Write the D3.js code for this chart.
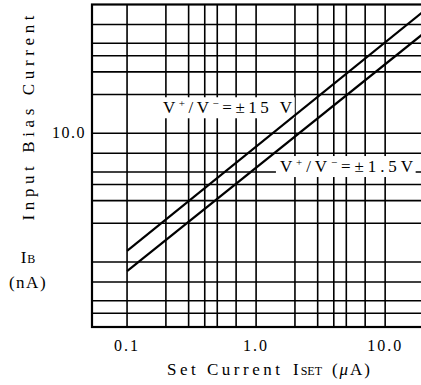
<!DOCTYPE html>
<meta charset="utf-8">
<style>
body { margin:0; background:#fff; overflow:hidden; }
svg text { font-family:"Liberation Serif", "Times New Roman", Times, serif; fill:#000; }
</style>
<svg width="421" height="385"></svg>
<script src="https://d3js.org/d3.v7.min.js"></script>
<script>
// set current (uA) on x, input bias current (nA) on y, both log
var xTicks = [0.1, 1, 10];
var xTickLabels = ['0.1', '1.0', '10.0'];
var yTicks = [10];
var yTickLabels = ['10.0'];
var xGrid = [0.1, 0.2, 0.3, 0.4, 0.5, 0.7, 1, 2, 3, 4, 5, 7, 10, 20];
var yGrid = [0.4, 0.5, 0.7, 1, 2, 3, 4, 5, 7, 10, 20, 30, 40, 50, 70];

var setCurrent = [0.1, 20];
var bias15 = [1.22, 89];    // V+/V- = ±15 V
var bias1_5 = [0.85, 60];   // V+/V- = ±1.5 V

var svg = d3.select('svg');
var x = d3.scaleLog().domain([0.0535, 20]).range([92, 424]);
var y = d3.scaleLog().domain([0.313, 100]).range([327, 4.5]);

var grid = svg.append('g').attr('stroke', '#000').attr('stroke-width', 1.6);
grid.selectAll('.v').data(xGrid).enter().append('line')
    .attr('x1', function(d) { return x(d) }).attr('x2', function(d) { return x(d) })
    .attr('y1', y.range()[1]).attr('y2', y.range()[0]);
grid.selectAll('.h').data(yGrid).enter().append('line')
    .attr('x1', x.range()[0]).attr('x2', x.range()[1])
    .attr('y1', function(d) { return y(d) }).attr('y2', function(d) { return y(d) });

// frame
svg.append('rect')
    .attr('x', x.range()[0]).attr('y', y.range()[1])
    .attr('width', x.range()[1] - x.range()[0]).attr('height', y.range()[0] - y.range()[1])
    .attr('fill', 'none').attr('stroke', '#000').attr('stroke-width', 2.2);

// curve labels sit on white patches that break the grid
function curveLabel(xv, yv, vals, len) {
    var g = svg.append('g');
    var bg = g.append('rect').attr('fill', '#fff');
    var t = g.append('text').attr('x', x(xv)).attr('y', y(yv)).attr('font-size', 17);
    t.append('tspan').text('V');
    t.append('tspan').attr('font-size', 11).attr('dy', -6).text('+');
    t.append('tspan').attr('dy', 6).text('/V');
    t.append('tspan').attr('font-size', 11).attr('dy', -6).text('\u2212');
    t.append('tspan').attr('dy', 6).text('=\u00b1' + vals);
    t.attr('textLength', len).attr('lengthAdjust', 'spacing');
    var b = t.node().getBBox();
    bg.attr('x', b.x - 4).attr('y', b.y).attr('width', b.width + 6).attr('height', b.height + 1);
}
curveLabel(0.19, 14.3, '15 V', 129);
curveLabel(1.53, 5, '1.5V', 133);

var line = d3.line()
    .x(function(d) { return x(d[0]) })
    .y(function(d) { return y(d[1]) });
[bias15, bias1_5].forEach(function(s) {
    svg.append('path')
        .datum(setCurrent.map(function(c, i) { return [c, s[i]] }))
        .attr('d', line)
        .attr('fill', 'none').attr('stroke', '#000').attr('stroke-width', 2.2);
});

// tick labels
svg.selectAll('.xt').data(xTicks).enter().append('text')
    .attr('x', function(d) { return x(d) }).attr('y', 351)
    .attr('text-anchor', 'middle').attr('font-size', 16).attr('letter-spacing', 2)
    .text(function(d, i) { return xTickLabels[i] });
svg.selectAll('.yt').data(yTicks).enter().append('text')
    .attr('x', 86).attr('y', function(d) { return y(d) + 5 })
    .attr('text-anchor', 'end').attr('font-size', 16).attr('letter-spacing', 1.5)
    .text(function(d, i) { return yTickLabels[i] });

// x title
svg.append('text').attr('x', 167).attr('y', 375).attr('font-size', 17)
    .attr('textLength', 113).attr('lengthAdjust', 'spacing').text('Set Current');
var iset = svg.append('text').attr('x', 293).attr('y', 375).attr('font-size', 17);
iset.append('tspan').text('I');
iset.append('tspan').attr('font-size', 12).attr('dx', 2).text('SET');
var ua = svg.append('text').attr('x', 332).attr('y', 375).attr('font-size', 17)
    .attr('textLength', 38).attr('lengthAdjust', 'spacing');
ua.append('tspan').text('(');
ua.append('tspan').attr('font-style', 'italic').text('\u03bc');
ua.append('tspan').text('A)');

// y title
svg.append('text')
    .attr('transform', 'translate(34,118) rotate(-90)')
    .attr('text-anchor', 'middle').attr('font-size', 17)
    .attr('textLength', 205).attr('lengthAdjust', 'spacing')
    .text('Input Bias Current');
var ib = svg.append('text').attr('x', 28).attr('y', 263).attr('text-anchor', 'middle').attr('font-size', 17);
ib.append('tspan').text('I');
ib.append('tspan').attr('font-size', 12).attr('dx', 1).text('B');
svg.append('text').attr('x', 28).attr('y', 288).attr('text-anchor', 'middle').attr('font-size', 17)
    .attr('letter-spacing', 1.5).text('(nA)');
</script>
